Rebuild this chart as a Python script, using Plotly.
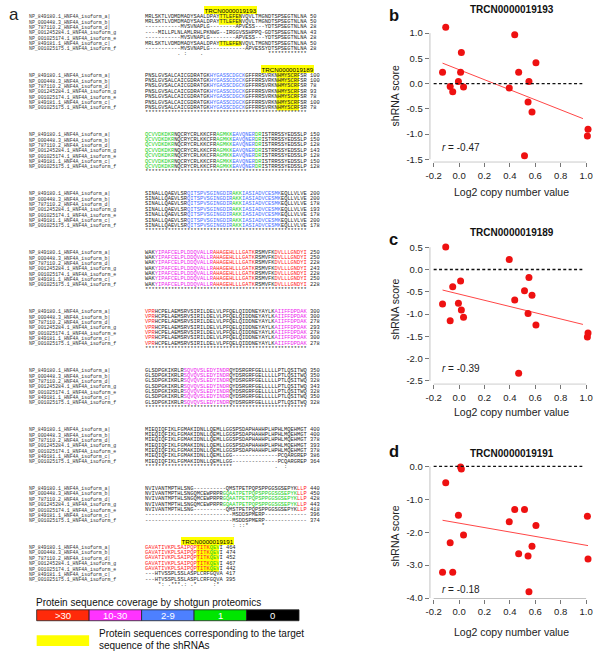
import numpy as np
import plotly.graph_objects as go

W, H = 600, 661

# ===================== Panel a : alignment data =====================
isoform_labels = [
    "NP_849180.1_HNF4A_isoform_a|",
    "NP_000448.3_HNF4A_isoform_b|",
    "NP_787110.2_HNF4A_isoform_d|",
    "NP_001245284.1_HNF4A_isoform_g",
    "NP_001025174.1_HNF4A_isoform_e",
    "NP_849181.1_HNF4A_isoform_c|",
    "NP_001025175.1_HNF4A_isoform_f",
]

aln_block1 = [
    "MRLSKTLVDMDMADYSAALDPAYTTLEFENVQVLTMGNDTSPSEGTNLNA",
    "MRLSKTLVDMDMADYSAALDPAYTTLEFENVQVLTMGNDTSPSEGTNLNA",
    "-" * 11 + "MVSVNAPLG" + "-" * 8 + "APVESS" + "-" * 3 + "YDTSPSEGTNLNA",
    "-" * 4 + "MILLPLNLAMLRHLPKNWG" + "-" * 2 + "IRGGVSSHPPQ" + "-" + "GDTSPSEGTNLNA",
    "-" * 11 + "MVSVNAPLG" + "-" * 8 + "APVESS" + "-" * 3 + "YDTSPSEGTNLNA",
    "MRLSKTLVDMDMADYSAALDPAYTTLEFENVQVLTMGNDTSPSEGTNLNA",
    "-" * 11 + "MVSVNAPLG" + "-" * 11 + "APVESS" + "YDTSPSEGTNLNA",
]
aln_block2 = ["PNSLGVSALCAICGDRATGKHYGASSCDGCKGFFRRSVRKNHMYSCRFSR"] * 7
aln_block3 = ["QCVVDKDKRNQCRYCRLKKCFRAGMKKEAVQNERDRISTRRSSYEDSSLP"] * 7
aln_block4 = ["SINALLQAEVLSRQITSPVSGINGDIRAKKIASIADVCESMKEQLLVLVE"] * 7
aln_block5 = ["WAKYIPAFCELPLDDQVALLRAHAGEHLLLGATKRSMVFKDVLLLGNDYI"] * 7
aln_block6 = ["VPRHCPELAEMSRVSIRILDELVLPFQELQIDDNEYAYLKAIIFFDPDAK"] * 7
aln_block7 = ["GLSDPGKIKRLRSQVQVSLEDYINDRQYDSRGRFGELLLLLPTLQSITWQ"] * 7
aln_block8 = ["MIEQIQFIKLFGMAKIDNLLQEMLLGGSPSDAPHAHHPLHPHLMQEHMGT"] * 5 + \
             ["MIEQIQFIKLFGMAKIDNLLQEMLLGG" + "-" * 14 + "PCQARGREP"] * 2
aln_block9 = [
    "NVIVANTMPTHLSNG" + "-" * 10 + "QMSTPETPQPSPPGGSGSEPYKLLP",
    "NVIVANTMPTHLSNGQMCEWPRPRGQAATPETPQPSPPGGSGSEPYKLLP",
    "NVIVANTMPTHLSNGQMCEWPRPRGQAATPETPQPSPPGGSGSEPYKLLP",
    "NVIVANTMPTHLSNGQMCEWPRPRGQAATPETPQPSPPGGSGSEPYKLLP",
    "NVIVANTMPTHLSNG" + "-" * 10 + "QMSTPETPQPSPPGGSGSEPYKLLP",
    "-" * 27 + "MSDDSPMERP" + "-" * 13,
    "-" * 27 + "MSDDSPMERP" + "-" * 13,
]
aln_block10 = ["GAVATIVKPLSAIPQPTITKQEVI"] * 5 + ["---HTVSSPLSSLASPLCRFGQVA"] * 2

aln_num1 = [50, 50, 28, 43, 28, 50, 28]
aln_num2 = [100, 100, 78, 93, 78, 100, 78]
aln_num3 = [150, 150, 128, 143, 128, 150, 128]
aln_num4 = [200, 200, 178, 193, 178, 200, 178]
aln_num5 = [250, 250, 228, 243, 228, 250, 228]
aln_num6 = [300, 300, 278, 293, 278, 300, 278]
aln_num7 = [350, 350, 328, 343, 328, 350, 328]
aln_num8 = [400, 400, 378, 393, 378, 386, 364]
aln_num9 = [440, 450, 428, 443, 418, 396, 374]
aln_num10 = [464, 474, 452, 467, 442, 417, 395]

aln_cons1 = " " * 10 + ". :" + " " * 4 + "." + " " * 20 + "*" * 12
aln_cons_full = "*" * 50
aln_cons8 = "*" * 27 + " " * 13 + ".  :" + " " * 6
aln_cons9 = " " * 27 + ": ::*" + " " * 4 + "*" + " " * 13
aln_cons10 = "    *: .***.: .*     :* "

ALL = [0, 1, 2, 3, 4, 5, 6]
# coverage segments: (rows, first column, last column, spectral-count class)
cov_block1 = []
cov_block2 = [(ALL, 21, 31, "2-9")]
cov_block3 = [(ALL, 1, 9, "1"), (ALL, 23, 27, "1"), (ALL, 28, 34, "2-9"), (ALL, 35, 36, "1")]
cov_block4 = [(ALL, 14, 27, "2-9"), (ALL, 28, 30, "1"), (ALL, 31, 42, "2-9")]
cov_block5 = [(ALL, 4, 21, "10-30"), (ALL, 22, 34, ">30"), (ALL, 41, 50, ">30")]
cov_block6 = [(ALL, 1, 3, ">30"), (ALL, 41, 50, "10-30")]
cov_block7 = [(ALL, 13, 26, "10-30")]
cov_block8 = []
cov_block9 = [([1, 2, 3], 25, 47, "1"), ([0, 1, 2, 3, 4], 48, 50, ">30")]
cov_block10 = [([0, 1, 2, 3, 4], 1, 20, ">30"), ([0, 1, 2, 3, 4], 21, 23, "1")]

# shRNA target sequences: (name, block, rows, first col, last col)
shrna_targets = [
    ("TRCN0000019193", 0, [0, 1, 5], 24, 30),
    ("TRCN0000019189", 1, ALL, 42, 48),
    ("TRCN0000019191", 9, [0, 1, 2, 3, 4], 17, 23),
]

cov_classes = [">30", "10-30", "2-9", "1", "0"]
cov_fill = ["#ff2a0a", "#ff33ff", "#4d80ff", "#00e600", "#000000"]
cov_text = {">30": "#ff2020", "10-30": "#ee22ee", "2-9": "#3f6dff", "1": "#18d018", "0": None}

aln_blocks = [aln_block1, aln_block2, aln_block3, aln_block4, aln_block5,
              aln_block6, aln_block7, aln_block8, aln_block9, aln_block10]
aln_numbers = [aln_num1, aln_num2, aln_num3, aln_num4, aln_num5,
               aln_num6, aln_num7, aln_num8, aln_num9, aln_num10]
aln_consensus = [aln_cons1] + [aln_cons_full] * 6 + [aln_cons8, aln_cons9, aln_cons10]
aln_coverage = [cov_block1, cov_block2, cov_block3, cov_block4, cov_block5,
                cov_block6, cov_block7, cov_block8, cov_block9, cov_block10]

# ===================== Panels b-d : scatter data =====================
copy_number = [-0.13, -0.105, -0.07, -0.05, -0.005, 0.012, 0.018, 0.035, 0.395,
               0.438, 0.469, 0.515, 0.543, 0.55, 0.574, 0.605, 1.01, 1.015]
score_19193 = [0.223, 1.115, -0.059, -0.164, 0.039, 0.223, 0.617, -0.066, -0.085,
               0.965, 0.223, -1.430, -0.367, 0.039, -0.564, 0.413, -1.037, -0.906]
score_19189 = [-0.772, 0.505, -1.151, -0.386, -0.757, -0.260, -0.906, -1.069, 0.223,
               -0.683, -2.324, -0.475, -0.987, -0.178, -0.579, -1.247, -1.514, -1.425]
score_19191 = [-3.214, -0.494, -2.317, -3.214, -1.481, -0.02, -0.08, -2.086, -1.683,
               -1.310, -2.650, -1.310, -2.720, -3.809, -2.428, -1.793, -1.511, -2.811]
panel_titles = ["TRCN0000019193", "TRCN0000019189", "TRCN0000019191"]
panel_letters = ["b", "c", "d"]
r_values = ["-0.47", "-0.39", "-0.18"]
x_tickvals = [-0.2, 0.0, 0.2, 0.4, 0.6, 0.8, 1.0]
x_ticktext = ["-0.2", "0.0", "0.2", "0.4", "0.6", "0.8", "1.0"]
y_tickvals = [[-1.5, -1.0, -0.5, 0.0, 0.5, 1.0],
              [-2.5, -2.0, -1.5, -1.0, -0.5, 0.0, 0.5],
              [-4.0, -3.0, -2.0, -1.0, 0.0]]
y_ticktext = [["-1.5", "-1.0", "-0.5", "0.0", "0.5", "1.0"],
              ["-2.5", "-2.0", "-1.5", "-1.0", "-0.5", "0.0", "0.5"],
              ["-4.0", "-3.0", "-2.0", "-1.0", "0.0"]]
scores = [score_19193, score_19189, score_19191]

# ===================== helpers =====================
def PX(x):
    return x / W


def PY(y):
    return 1 - y / H


NB = "\u00a0"
MONO = "Liberation Mono, Courier New, monospace"
SANS = "Liberation Sans, Arial, sans-serif"
SEQ_SIZE = 5.4
LAB_SIZE = 4.85
CW = 0.6 * SEQ_SIZE
LAB_X = 25.0
SEQ_X = 142.5
ROW0 = 16.8
BLOCK_STEP = 59.35
ROW_STEP = 5.4
BLACK_TXT = "#262626"

annotations = []
shapes = []


def row_y(k, r):
    return ROW0 + BLOCK_STEP * k + ROW_STEP * r


def runs_html(seq, cols):
    out = ""
    i = 0
    while i < len(seq):
        j = i
        while j < len(seq) and cols[j] == cols[i]:
            j += 1
        chunk = seq[i:j].replace(" ", NB)
        if cols[i] is None:
            out += chunk
        else:
            out += '<span style="color:%s">%s</span>' % (cols[i], chunk)
        i = j
    return out


def text_ann(x, y, text, size, family=SANS, color="#222", xanchor="left", **kw):
    d = dict(x=PX(x), y=PY(y), xref="paper", yref="paper", text=text, showarrow=False,
             xanchor=xanchor, yanchor="middle", borderpad=0, borderwidth=0,
             font=dict(family=family, size=size, color=color))
    d.update(kw)
    annotations.append(d)


# ---------- panel a ----------
text_ann(5, 14.5, "a", 17)

for k, block in enumerate(aln_blocks):
    for r, seq in enumerate(block):
        cols = [None] * len(seq)
        for rows, c0, c1, cls in aln_coverage[k]:
            if r in rows:
                for c in range(c0 - 1, c1):
                    if seq[c] != "-":
                        cols[c] = cov_text[cls]
        y = row_y(k, r)
        text_ann(LAB_X, y, isoform_labels[r], LAB_SIZE, family=MONO, color="#333")
        html = runs_html(seq, cols) + NB + str(aln_numbers[k][r])
        text_ann(SEQ_X, y, html, SEQ_SIZE, family=MONO, color=BLACK_TXT)
    text_ann(SEQ_X, row_y(k, 7), aln_consensus[k].replace(" ", NB), SEQ_SIZE,
             family=MONO, color=BLACK_TXT)

for name, k, rows, c0, c1 in shrna_targets:
    for r in rows:
        y = row_y(k, r)
        shapes.append(dict(type="rect", xref="paper", yref="paper",
                           x0=PX(SEQ_X + (c0 - 1) * CW), x1=PX(SEQ_X + c1 * CW),
                           y0=PY(y + ROW_STEP / 2), y1=PY(y - ROW_STEP / 2),
                           fillcolor="#ffff00", line=dict(width=0), layer="below"))
    xc = SEQ_X + (c0 - 1 + c1) / 2 * CW
    yl = row_y(k, 0) - (7.0 if k > 0 else 6.8)
    text_ann(xc, yl, name, 6.2, color="#000", xanchor="center", bgcolor="#ffff00",
             borderpad=0.6)

# legend
text_ann(32, 606, "Protein sequence coverage by shotgun proteomics", 10, color="#111")
seg_w = 53.0
for i, (cls, col) in enumerate(zip(cov_classes, cov_fill)):
    x0 = 33 + i * seg_w
    shapes.append(dict(type="rect", xref="paper", yref="paper", x0=PX(x0), x1=PX(x0 + seg_w),
                       y0=PY(624.5), y1=PY(613.5), fillcolor=col,
                       line=dict(width=0.8, color="#222")))
    text_ann(x0 + seg_w / 2, 619.2, cls, 9.5, color="#ffffff", xanchor="center")
shapes.append(dict(type="rect", xref="paper", yref="paper", x0=PX(33), x1=PX(86),
                   y0=PY(650), y1=PY(639), fillcolor="#ffff00", line=dict(width=0)))
text_ann(96, 637, "Protein sequences corresponding to the target", 10, color="#111")
text_ann(96, 649.5, "sequence of the shRNAs", 10, color="#111")

# ---------- panels b-d ----------
X_LEFT, X_RIGHT = 430.0, 593.0
x_range = [-0.2 - 4 / 128.33, 1.0 + 5 / 128.33]
panel_geo = [
    dict(top=26.0, bottom=163.3, yr=[-1.559, 1.1437], title_y=10, letter_y=15.5,
         xt_y=192.7, yt_y=97, r_y=148, line_end=0.975),
    dict(top=240.0, bottom=386.7, yr=[-2.576, 0.694], title_y=234, letter_y=240,
         xt_y=415, yt_y=311.7, r_y=371, line_end=0.975),
    dict(top=462.0, bottom=602.7, yr=[-4.03, 0.22], title_y=456.7, letter_y=454,
         xt_y=636, yt_y=540, r_y=592.7, line_end=1.015),
]

fig = go.Figure()
layout_axes = {}
AX_COL = "#777777"
for i in range(3):
    g = panel_geo[i]
    sfx = "" if i == 0 else str(i + 1)
    xa, ya = "x" + sfx, "y" + sfx
    layout_axes["xaxis" + sfx] = dict(
        domain=[PX(X_LEFT), PX(X_RIGHT)], range=x_range, anchor=ya,
        showgrid=False, zeroline=False, showline=False, ticks="outside", ticklen=4,
        tickwidth=1, tickcolor=AX_COL, tickvals=x_tickvals, ticktext=x_ticktext,
        tickfont=dict(family=SANS, size=9.5, color="#222"))
    layout_axes["yaxis" + sfx] = dict(
        domain=[PY(g["bottom"]), PY(g["top"])], range=g["yr"], anchor=xa,
        showgrid=False, zeroline=False, showline=False, ticks="outside", ticklen=4,
        tickwidth=1, tickcolor=AX_COL, tickvals=y_tickvals[i], ticktext=y_ticktext[i],
        tickfont=dict(family=SANS, size=9.5, color="#222"))

    xs = np.array(copy_number)
    ys = np.array(scores[i])
    slope, icpt = np.polyfit(xs, ys, 1)
    lx = np.array([xs.min(), g["line_end"]])
    fig.add_trace(go.Scatter(x=lx, y=slope * lx + icpt, mode="lines", xaxis=xa, yaxis=ya,
                             line=dict(color="#ff4646", width=1), showlegend=False,
                             hoverinfo="skip"))
    fig.add_trace(go.Scatter(x=copy_number, y=scores[i], mode="markers", xaxis=xa, yaxis=ya,
                             marker=dict(color="#ee1111", size=7), showlegend=False,
                             cliponaxis=False))

    # dashed zero line
    shapes.append(dict(type="line", xref=xa, yref=ya, x0=-0.2, x1=0.97, y0=0, y1=0,
                       line=dict(color="#111", width=1.3, dash="3px,2.4px")))
    # detached axis lines
    yt = y_tickvals[i]
    shapes.append(dict(type="line", xref=xa, yref=ya, x0=x_range[0], x1=x_range[0],
                       y0=min(yt), y1=max(yt), line=dict(color=AX_COL, width=1)))
    shapes.append(dict(type="line", xref=xa, yref=ya, x0=-0.2, x1=1.0,
                       y0=g["yr"][0], y1=g["yr"][0], line=dict(color=AX_COL, width=1)))

    text_ann(513, g["title_y"], "<b>%s</b>" % panel_titles[i], 10, color="#111",
             xanchor="center")
    text_ann(389, g["letter_y"], "<b>%s</b>" % panel_letters[i], 16.5, color="#111")
    text_ann(513, g["xt_y"], "Log2 copy number value", 10.5, color="#222", xanchor="center")
    text_ann(395, g["yt_y"], "shRNA score", 10.5, color="#222", xanchor="center",
             textangle=-90)
    text_ann(442, g["r_y"], "<i>r</i> = %s" % r_values[i], 10, color="#222")

fig.update_layout(
    width=W, height=H, margin=dict(l=0, r=0, t=0, b=0),
    paper_bgcolor="white", plot_bgcolor="white",
    annotations=annotations, shapes=shapes, showlegend=False,
    hovermode=False,
    **layout_axes,
)
fig.write_html("out.html",
               config={"displayModeBar": False, "staticPlot": True},
               post_script="document.body.style.margin='0px';"
                           "document.body.style.overflow='hidden';")
